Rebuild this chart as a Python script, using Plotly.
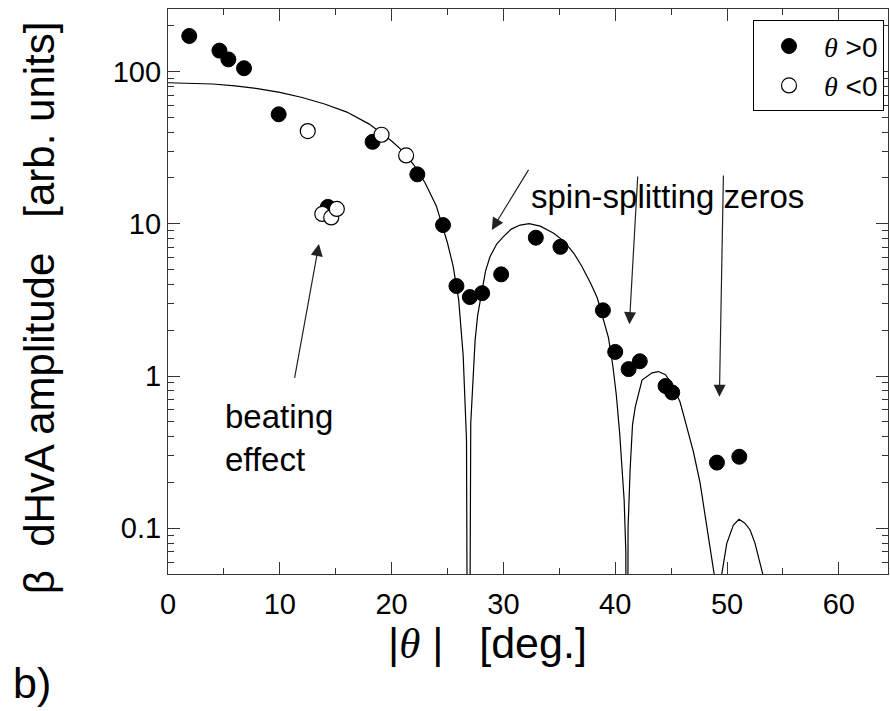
import math
import plotly.graph_objects as go

# ---- data ----
theta_pos = [1.9, 4.6, 5.4, 6.8, 9.9, 14.3, 18.3, 22.3, 24.6, 25.8, 27.0, 28.1,
             29.8, 32.9, 35.1, 38.9, 40.0, 41.2, 42.2, 44.5, 45.1, 49.1, 51.1]
amp_pos = [171, 137, 120, 105, 52.3, 12.9, 34.5, 21.1, 9.8, 3.9, 3.3, 3.5,
           4.65, 8.1, 7.05, 2.7, 1.44, 1.11, 1.25, 0.86, 0.78, 0.27, 0.295]

theta_neg = [12.5, 19.1, 21.3, 13.8, 14.6, 15.1]
amp_neg = [40.6, 38.4, 28.1, 11.6, 11.0, 12.5]

# fitted curve (zeros drop below the axis)
fit_theta = [0, 2, 4, 6, 8, 10, 12, 14, 16, 18, 20, 21, 22, 23, 24, 25, 25.5,
             26, 26.4, 26.7, 26.87,
             27.08, 27.3, 27.47, 27.7, 28.07, 28.4, 28.8, 29.4, 30.0, 30.7,
             31.5, 32.3, 33.3, 34.5, 35.4, 36.3, 37.0, 37.8, 38.4, 38.9, 39.4,
             39.8, 40.1, 40.4, 40.6, 40.8, 40.95, 41.04,
             41.15, 41.33, 41.55, 41.8, 42.4, 42.83, 43.3, 43.87, 44.5, 45.2,
             45.8, 46.4, 47.0, 47.6, 48.0, 48.34, 48.6, 48.85, 49.2,
             49.53, 49.98, 50.57, 51.08, 51.6, 52.07, 52.5, 52.81, 53.2, 53.6]
fit_amp = [84.3, 83.9, 82.7, 80.4, 77.2, 72.9, 67.4, 61.1, 54.1, 45.1, 34.9,
           30.0, 24.3, 18.5, 13.1, 7.47, 5.28, 3.16, 1.37, 0.38, 0.0001,
           0.49, 1.0, 1.72, 2.51, 3.67, 4.89, 6.07, 7.36, 8.22, 9.22,
           9.8, 10.0, 9.64, 8.65, 7.69, 6.4, 5.28, 4.06, 3.25, 2.45, 1.78,
           1.15, 0.75, 0.42, 0.26, 0.153, 0.07, 0.0001,
           0.1, 0.24, 0.48, 0.63, 0.94, 0.99, 1.05, 1.07, 1.02, 0.85,
           0.675, 0.464, 0.317, 0.197, 0.126, 0.0927, 0.067, 0.05, 0.0001,
           0.05, 0.0797, 0.105, 0.1146, 0.108, 0.0975, 0.080, 0.065, 0.05, 0.035]

y_tick_vals = [0.1, 1, 10, 100]
y_tick_text = ["0.1", "1", "10", "100"]
x_tick_vals = [0, 10, 20, 30, 40, 50, 60]
x_minor_vals = [5, 15, 25, 35, 45, 55]
y_minor_vals = [0.06, 0.07, 0.08, 0.09, 0.2, 0.3, 0.4, 0.5, 0.6, 0.7, 0.8, 0.9,
                2, 3, 4, 5, 6, 7, 8, 9, 20, 30, 40, 50, 60, 70, 80, 90, 200]

SANS = "Liberation Sans, Arial, sans-serif"
TH = "<span style=\"font-family:'Liberation Serif'\"><i>θ</i></span>"
NB = "\u00a0"

fig = go.Figure()
fig.add_trace(go.Scatter(x=fit_theta, y=fit_amp, mode="lines",
                         line=dict(color="black", width=1.2),
                         showlegend=False, hoverinfo="skip"))
fig.add_trace(go.Scatter(x=theta_pos, y=amp_pos, mode="markers",
                         name=TH + " &gt;0",
                         marker=dict(symbol="circle", size=15, color="black",
                                     line=dict(color="black", width=1))))
fig.add_trace(go.Scatter(x=theta_neg, y=amp_neg, mode="markers",
                         name=TH + " &lt;0",
                         marker=dict(symbol="circle", size=15, color="white",
                                     line=dict(color="black", width=1.2))))

L = math.log10

def arrow(hx, hy, tx, ty):
    return dict(x=hx, y=L(hy), ax=tx, ay=L(ty), xref="x", yref="y",
                axref="x", ayref="y", text="", showarrow=True,
                arrowhead=2, arrowsize=2.0, arrowwidth=1.2,
                arrowcolor="#222222")

annotations = [
    arrow(13.5, 7.36, 11.3, 0.95),
    arrow(28.96, 9.1, 32.33, 23.1),
    arrow(41.27, 2.19, 42.02, 20.9),
    arrow(49.32, 0.731, 49.68, 21.2),
    dict(x=44.7, y=L(15.0), xref="x", yref="y", text="spin-splitting zeros",
         showarrow=False, font=dict(family=SANS, size=33, color="black")),
    dict(x=4.9, y=L(0.39), xref="x", yref="y", text="beating<br>effect",
         showarrow=False, xanchor="left", align="left",
         font=dict(family=SANS, size=33, color="black")),
    dict(x=-0.218, y=-0.193, xref="paper", yref="paper", yanchor="middle",
         xanchor="left", text="b)", showarrow=False,
         font=dict(family=SANS, size=43, color="black")),
    # axis titles
    dict(x=0.444, y=-0.123, xref="paper", yref="paper", xanchor="center",
         yanchor="middle", showarrow=False,
         text="|" + TH + NB + "|" + NB * 3 + "[deg.]",
         font=dict(family=SANS, size=43, color="black")),
    dict(x=-0.178, y=0.4717, xref="paper", yref="paper", xanchor="center",
         yanchor="middle", showarrow=False, textangle=-90,
         text="β" + NB * 2 + "dHvA amplitude" + NB * 3 + "[arb. units]",
         font=dict(family=SANS, size=42, color="black")),
]

axis_common = dict(showline=True, linecolor="#333333", linewidth=1.2,
                   mirror="ticks", ticks="inside", ticklen=12,
                   tickwidth=1.2, tickcolor="#333333", showgrid=False,
                   zeroline=False,
                   tickfont=dict(family=SANS, size=29, color="black"))

fig.update_layout(
    width=890, height=711,
    margin=dict(l=168, r=2, t=9, b=137),
    paper_bgcolor="white", plot_bgcolor="white",
    font=dict(family=SANS, color="black"),
    xaxis=dict(range=[0, 64.4], tickvals=x_tick_vals, ticklabelstandoff=4,
               minor=dict(tickvals=x_minor_vals, ticks="inside", ticklen=6,
                          tickwidth=1.2, tickcolor="#333333"),
               **axis_common),
    yaxis=dict(type="log", range=[-1.30, 2.41], tickvals=y_tick_vals,
               ticktext=y_tick_text,
               minor=dict(tickvals=y_minor_vals, ticks="inside", ticklen=6,
                          tickwidth=1.2, tickcolor="#333333"),
               **axis_common),
    legend=dict(x=0.8125, y=0.98, xanchor="left", yanchor="top",
                bgcolor="white", bordercolor="black", borderwidth=1,
                font=dict(family=SANS, size=28, color="black"),
                itemsizing="trace", itemwidth=60),
    annotations=annotations,
    showlegend=True,
)

fig.write_html("out.html")
